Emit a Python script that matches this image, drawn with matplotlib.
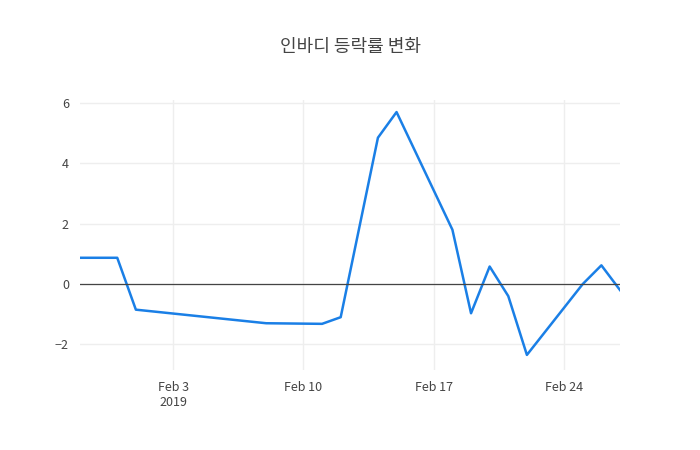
import pandas as pd
import matplotlib
matplotlib.use('Agg')
import matplotlib.pyplot as plt

plt.rcParams['font.family'] = ['Noto Sans CJK KR', 'DejaVu Sans']

# 날짜와 등락률
dates = ['2019-01-29', '2019-01-31', '2019-02-01', '2019-02-08', '2019-02-11',
         '2019-02-12', '2019-02-14', '2019-02-15', '2019-02-18', '2019-02-19',
         '2019-02-20', '2019-02-21', '2019-02-22', '2019-02-25', '2019-02-26',
         '2019-02-27']
changes = [0.87, 0.87, -0.85, -1.30, -1.32, -1.10, 4.85, 5.70, 1.80, -0.97,
           0.58, -0.40, -2.35, 0.00, 0.62, -0.20]
tick_dates = ['2019-02-03', '2019-02-10', '2019-02-17', '2019-02-24']
tick_labels = ['Feb 3\n2019', 'Feb 10', 'Feb 17', 'Feb 24']

x = pd.to_datetime(dates)

fig = plt.figure(figsize=(7, 4.5), dpi=100)
ax = fig.add_axes([80/700, 80/450, 540/700, 270/450])
ax.plot(x, changes, color='#1a7fe6', linewidth=1.8)
ax.axhline(0, color='#444444', linewidth=0.9)

ax.set_xlim(x[0], x[-1])
ax.set_ylim(-2.85, 6.1)
ax.set_yticks([-2, 0, 2, 4, 6])
ax.set_yticklabels(['−2', '0', '2', '4', '6'])
ax.set_xticks(pd.to_datetime(tick_dates))
ax.set_xticklabels(tick_labels)
ax.grid(True, color='#eeeeee', linewidth=1)
ax.set_axisbelow(True)
for s in ax.spines.values():
    s.set_visible(False)
ax.tick_params(length=0, labelsize=9, colors='#444444', pad=8)

fig.suptitle('인바디 등락률 변화', x=0.5, y=0.915, fontsize=13, color='#444444')
fig.savefig('out.png', dpi=100)
